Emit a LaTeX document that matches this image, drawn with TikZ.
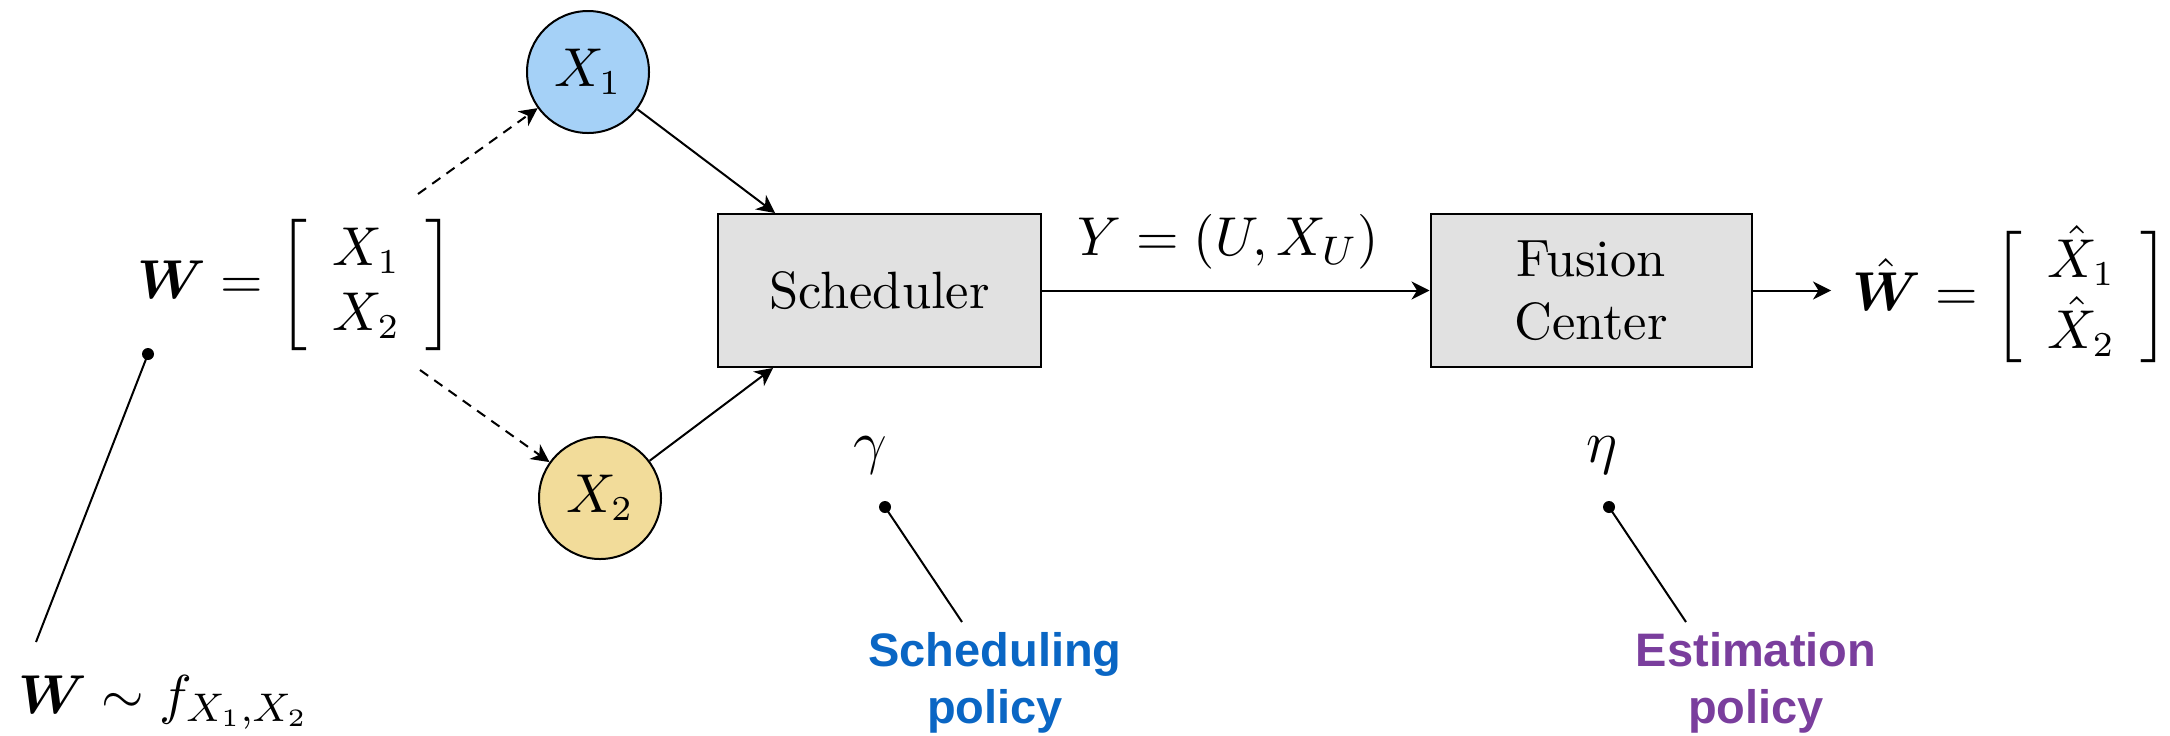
\documentclass[tikz,border=0pt]{standalone}
\usepackage{amsmath}
\usepackage{fontspec}
\newfontfamily\policyfont{Liberation Sans}[BoldFont={Liberation Sans Bold}]
\usetikzlibrary{arrows.meta}

\definecolor{nodeblue}{RGB}{165,209,247}
\definecolor{nodeyellow}{RGB}{242,220,154}
\definecolor{boxgray}{RGB}{225,225,225}
\definecolor{schedblue}{RGB}{10,102,196}
\definecolor{estpurple}{RGB}{122,62,157}

\tikzset{
  arr/.style={line width=0.4pt, -{Stealth[length=3.6pt,width=3.6pt,inset=1.1pt]}},
  dasharr/.style={arr, dash pattern=on 2pt off 1.5pt},
  sensor/.style={circle, draw, line width=0.4pt, minimum size=24.4pt, inner sep=0pt,
    font=\fontsize{10.5}{12.6}\selectfont},
  block/.style={rectangle, draw, line width=0.4pt, fill=boxgray, inner sep=0pt,
    align=center, font=\fontsize{10.5}{12.6}\selectfont},
  eqn/.style={inner sep=0pt, font=\fontsize{10.5}{13}\selectfont},
  policy/.style={inner sep=0pt, align=center, font=\policyfont\bfseries\fontsize{9.4}{11.4}\selectfont},
  pin/.style={circle, fill, inner sep=0pt, minimum size=2.4pt},
  pinline/.style={line width=0.4pt},
}

\begin{document}
\begin{tikzpicture}[x=0.2pt, y=-0.2pt]
  \useasboundingbox (0,0) rectangle (2170,735);

  % source vector
  \node[eqn, anchor=west] (lhs) at (136,285)
    {$\boldsymbol{W} = \left[\begin{array}{c} X_1\\ X_2 \end{array}\right]$};
  \node[eqn, font=\fontsize{11}{13}\selectfont, anchor=base west] (dist) at (17,713)
    {$\boldsymbol{W} \sim f_{X_1,X_2}$};
  \node[pin] (wpin) at (148,354) {};
  \coordinate (wend) at (36,642);
  \draw[pinline] (wpin.center) -- (wend);

  % sensors
  \node[sensor, fill=nodeblue] (X1) at (588,72) {$X_1$};
  \node[sensor, fill=nodeyellow] (X2) at (600,498) {$X_2$};
  \coordinate (s1) at (418,194);
  \coordinate (s2) at (420,370);
  \draw[dasharr] (s1) -- (X1);
  \draw[dasharr] (s2) -- (X2);

  % scheduler and fusion center
  \node[block, minimum width=64.6pt, minimum height=30.6pt] (sched) at (879.5,290.5)
    {Scheduler};
  \node[block, minimum width=64.2pt, minimum height=30.6pt] (fusion) at (1591,290.5)
    {Fusion\\Center};

  \draw[arr] (X1) -- ([xshift=11.6pt]sched.north west);
  \draw[arr] (X2) -- ([xshift=11.2pt]sched.south west);
  \draw[arr] (sched.east) -- node[pos=0.48, above=4pt, inner sep=0pt,
        font=\fontsize{10.8}{13}\selectfont] (ylab)
    {$Y = (U, X_U)$} (fusion.west);

  % estimate
  \node[eqn, anchor=west, outer xsep=4.2pt] (rhs) at (1831,296.5)
    {$\hat{\boldsymbol{W}} = \left[\begin{array}{c} \hat{X}_1\\ \hat{X}_2 \end{array}\right]$};
  \draw[arr] (fusion.east) -- (fusion.east -| rhs.west);

  % policies
  \node[anchor=base, inner sep=0pt, font=\fontsize{13}{15}\selectfont] (gamma) at (870,462) {$\gamma$};
  \node[anchor=base, inner sep=0pt, font=\fontsize{13}{15}\selectfont] (eta) at (1602,462) {$\eta$};
  \node[pin] (gpin) at (885,507) {};
  \node[pin] (epin) at (1609,507) {};
  \node[policy, text=schedblue, anchor=north] (spol) at (995,631) {Scheduling\\policy};
  \node[policy, text=estpurple, anchor=north] (epol) at (1756,631) {Estimation\\policy};
  \coordinate (gend) at (962,622);
  \coordinate (eend) at (1686,622);
  \draw[pinline] (gpin.center) -- (gend);
  \draw[pinline] (epin.center) -- (eend);
\end{tikzpicture}
\end{document}
